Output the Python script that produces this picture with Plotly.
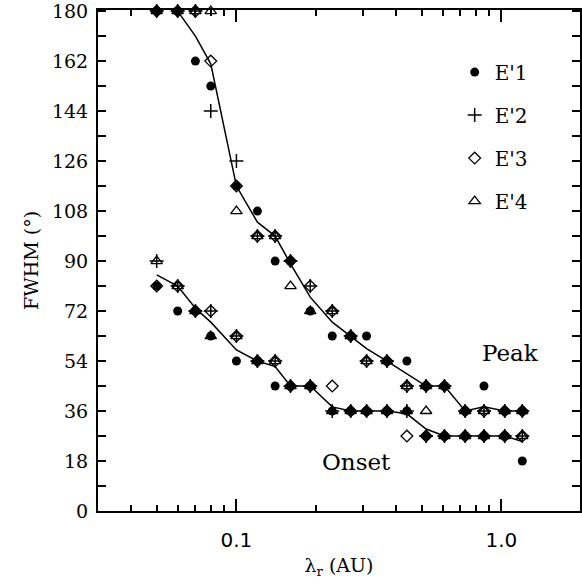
import plotly.graph_objects as go
import math

# ---- data ----
lam = [0.05, 0.06, 0.07, 0.08, 0.10, 0.12, 0.14, 0.16, 0.19, 0.23,
       0.27, 0.31, 0.37, 0.44, 0.52, 0.61, 0.73, 0.86, 1.03, 1.20]

peak_e1 = [180, 180, 162, 153, 117, 108, 90, 90, 72, 63, 63, 63, 54, 54, 45, 45, 36, 45, 36, 36]
peak_e2 = [180, 180, 180, 144, 126, 99, 99, 90, 81, 72, 63, 54, 54, 45, 45, 45, 36, 36, 36, 36]
peak_e3 = [180, 180, 180, 162, 117, 99, 99, 90, 81, 72, 63, 54, 54, 45, 45, 45, 36, 36, 36, 36]
peak_e4 = [180, 180, 180, 180, 108, 99, 99, 81, 72, 72, 63, 54, 54, 45, 45, 45, 36, 36, 36, 36]

onset_e1 = [81, 72, 72, 63, 54, 54, 45, 45, 45, 36, 36, 36, 36, 36, 27, 27, 27, 27, 27, 18]
onset_e2 = [90, 81, 72, 72, 63, 54, 54, 45, 45, 36, 36, 36, 36, 36, 27, 27, 27, 27, 27, 27]
onset_e3 = [81, 81, 72, 72, 63, 54, 54, 45, 45, 45, 36, 36, 36, 27, 27, 27, 27, 27, 27, 27]
onset_e4 = [90, 81, 72, 63, 63, 54, 54, 45, 45, 36, 36, 36, 36, 36, 36, 27, 27, 27, 27, 27]

peak_fit_x = [0.06, 0.07, 0.08, 0.10, 0.12, 0.14, 0.16, 0.19, 0.23, 0.27,
              0.31, 0.37, 0.44, 0.52, 0.61, 0.73, 0.86, 1.03, 1.20]
peak_fit_y = [180, 171, 161, 117, 104, 99, 89, 77, 68, 63,
              58.5, 54, 49.5, 45, 45, 36, 37.5, 36, 36]

onset_fit_x = lam
onset_fit_y = [85, 81, 73, 68, 58, 54, 52, 45, 45, 37.5,
               36, 36, 36, 35, 29.5, 27, 27, 27, 27, 25]

series_names = ["E'1", "E'2", "E'3", "E'4"]
y_major = list(range(0, 181, 18))
y_minor = list(range(9, 181, 18))

SERIF = "DejaVu Serif"
SANS = "DejaVu Sans"

fig = go.Figure()

# fitted curves
fig.add_trace(go.Scatter(x=peak_fit_x, y=peak_fit_y, mode="lines",
                         line=dict(color="black", width=1.5), showlegend=False))
fig.add_trace(go.Scatter(x=onset_fit_x, y=onset_fit_y, mode="lines",
                         line=dict(color="black", width=1.5), showlegend=False))

styles = [
    dict(symbol="circle", size=9, color="black", line=dict(width=0, color="black")),
    dict(symbol="cross-thin-open", size=10, color="black", line=dict(width=1.5, color="black")),
    dict(symbol="diamond-open", size=9, color="black", line=dict(width=1.3, color="black")),
    dict(symbol="triangle-up-open", size=10, color="black", line=dict(width=1.3, color="black")),
]
peaks = [peak_e1, peak_e2, peak_e3, peak_e4]
onsets = [onset_e1, onset_e2, onset_e3, onset_e4]

for i, name in enumerate(series_names):
    fig.add_trace(go.Scatter(
        x=lam + lam, y=peaks[i] + onsets[i], mode="markers", name=name,
        marker=styles[i], legendgroup=name, cliponaxis=False,
    ))

fig.add_annotation(x=math.log10(1.08), y=57, xref="x", yref="y", text="Peak",
                   showarrow=False, font=dict(family=SERIF, size=23, color="black"),
                   xanchor="center", yanchor="middle")
fig.add_annotation(x=math.log10(0.285), y=17.5, xref="x", yref="y", text="Onset",
                   showarrow=False, font=dict(family=SERIF, size=23, color="black"),
                   xanchor="center", yanchor="middle")

fig.update_layout(
    width=582, height=585,
    margin=dict(l=98, r=0, t=10, b=74),
    paper_bgcolor="white", plot_bgcolor="white",
    showlegend=True,
    legend=dict(x=0.74, y=0.915, xanchor="left", yanchor="top",
                font=dict(family=SERIF, size=20, color="black"),
                bgcolor="rgba(0,0,0,0)", traceorder="grouped",
                tracegroupgap=14, itemwidth=30),
)

fig.update_xaxes(
    type="log", range=[-1.5226, 0.297],
    showline=True, linecolor="black", linewidth=2, mirror="ticks",
    ticks="inside", ticklen=12, tickwidth=1.5, tickcolor="black",
    tickvals=[0.1, 1.0], ticktext=["0.1", "1.0"],
    tickfont=dict(family=SANS, size=20, color="black"),
    ticklabelstandoff=10,
    minor=dict(tickvals=[0.04, 0.05, 0.06, 0.07, 0.08, 0.09,
                         0.2, 0.3, 0.4, 0.5, 0.6, 0.7, 0.8, 0.9, 2.0],
               ticks="inside", ticklen=6, tickwidth=1.5, tickcolor="black"),
    showgrid=False, zeroline=False,
    title=dict(text="λ<sub>r</sub> (AU)", font=dict(family=SERIF, size=19, color="black"),
               standoff=8),
)
fig.update_yaxes(
    range=[0, 180.4],
    showline=True, linecolor="black", linewidth=2, mirror="ticks",
    ticks="inside", ticklen=8, tickwidth=1.5, tickcolor="black",
    tickvals=y_major, ticktext=[str(v) for v in y_major],
    ticklabeloverflow="allow",
    minor=dict(tickvals=y_minor, ticks="inside", ticklen=8, tickwidth=1.5,
               tickcolor="black"),
    tickfont=dict(family=SERIF, size=19, color="black"),
    ticklabelstandoff=4,
    showgrid=False, zeroline=False,
    title=dict(text="FWHM (°)", font=dict(family=SERIF, size=19, color="black"),
               standoff=8),
)

fig.write_html("out.html")
